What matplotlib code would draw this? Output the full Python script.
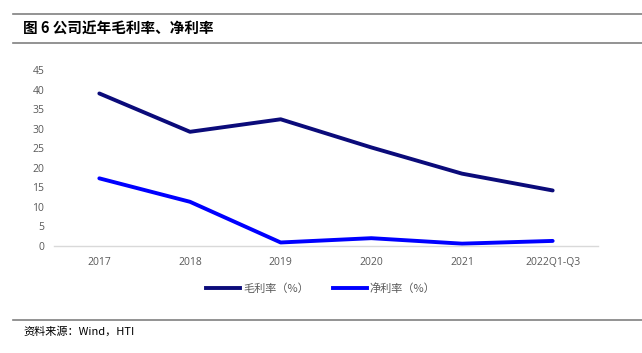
import matplotlib
matplotlib.use("Agg")
import matplotlib.pyplot as plt
from matplotlib.lines import Line2D

plt.rcParams['font.family'] = ['Noto Sans CJK SC', 'DejaVu Sans']

categories = ['2017', '2018', '2019', '2020', '2021', '2022Q1-Q3']
gross_margin = [39.0, 29.2, 32.4, 25.2, 18.5, 14.2]
net_margin = [17.3, 11.3, 0.9, 2.0, 0.6, 1.3]
yticks = [0, 5, 10, 15, 20, 25, 30, 35, 40, 45]

title = '图 6 公司近年毛利率、净利率'
source = '资料来源：Wind，HTI'
labels = ['毛利率（%）', '净利率（%）']
colors = ['#0b0b7a', '#0000ff']

fig = plt.figure(figsize=(6.42, 3.53), dpi=100)
ax = fig.add_axes([54/642, 1-246/353, (598-54)/642, (246-70)/353])

x = list(range(len(categories)))
ax.plot(x, gross_margin, color=colors[0], lw=2.8, solid_capstyle='round', solid_joinstyle='round')
ax.plot(x, net_margin, color=colors[1], lw=2.8, solid_capstyle='round', solid_joinstyle='round')

ax.set_xlim(-0.5, len(categories) - 0.5)
ax.set_ylim(0, 45)
ax.set_yticks(yticks)
ax.set_xticks(x)
ax.set_xticklabels(categories)
for s in ['top', 'right', 'left']:
    ax.spines[s].set_visible(False)
ax.spines['bottom'].set_color('#d9d9d9')
ax.spines['bottom'].set_linewidth(1.0)
ax.tick_params(axis='both', length=0, labelsize=7.5, labelcolor='#595959')
ax.tick_params(axis='y', pad=7)
ax.tick_params(axis='x', pad=8)
for t in ax.get_xticklabels() + ax.get_yticklabels():
    t.set_family(['Open Sans', 'DejaVu Sans'])

# legend
handles = [Line2D([0], [0], color=c, lw=2.8) for c in colors]
fig.legend(handles, labels, loc='center', bbox_to_anchor=(0.5, 1-289/353), ncol=2,
           frameon=False, fontsize=8, handlelength=3.0, handletextpad=0.3,
           columnspacing=2.2, labelcolor='#595959')

# header / footer lines
fig.add_artist(Line2D([13/642, 1], [1-14/353, 1-14/353], color='#808080', lw=1.2, transform=fig.transFigure))
fig.add_artist(Line2D([13/642, 1], [1-43/353, 1-43/353], color='#808080', lw=1.2, transform=fig.transFigure))
fig.add_artist(Line2D([13/642, 1], [1-320/353, 1-320/353], color='#808080', lw=1.2, transform=fig.transFigure))

fig.text(23/642, 1-29/353, title, fontsize=10.5, fontweight='bold', va='center', ha='left', color='black')
fig.text(23/642, 1-331/353, source, fontsize=8, va='center', ha='left', color='black')

fig.savefig('out.png', dpi=100)
